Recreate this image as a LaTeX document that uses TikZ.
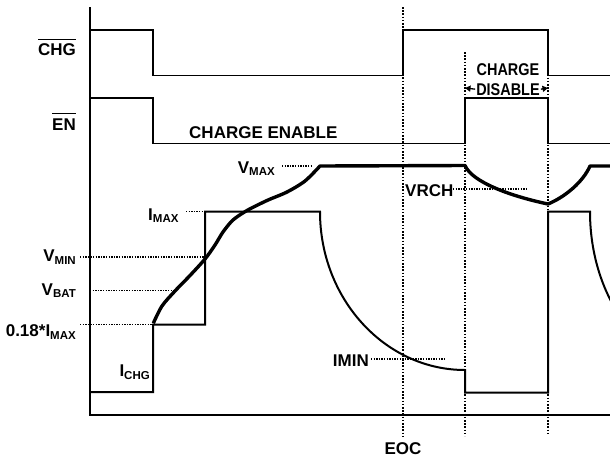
\documentclass[tikz,border=0pt]{standalone}
\usepackage{fontspec}
\setmainfont{Liberation Sans}
\usetikzlibrary{arrows.meta}
\newcommand{\lsub}[1]{\raisebox{-2.5pt}{\fontsize{11.5}{12}\selectfont #1}}
\newcommand{\ovl}[1]{\leavevmode\vbox{\hrule height 1.3pt \kern 4pt \hbox{#1}}}
\begin{document}
\begin{tikzpicture}[x=1pt,y=-1pt,
  lbl/.style={font=\fontsize{17}{19}\selectfont\bfseries, inner sep=0pt},
  sig/.style={line width=1.3pt},
  cur/.style={line width=2pt, line join=miter},
  volt/.style={line width=3.4pt, line join=round},
  leader/.style={line width=1.3pt, dash pattern=on 1.3pt off 1.3pt},
  vdot/.style={line width=1.6pt, dash pattern=on 1.6pt off 1.6pt},
  tip/.style={-{Triangle[length=5.5pt,width=6pt]}}]
\useasboundingbox (0,0) rectangle (610,458);
\fill[white] (0,0) rectangle (610,458);
\clip (0,0) rectangle (610,458);

% axes
\draw[sig] (90,7) -- (90,415) -- (610,415);

% CHG and EN signals
\draw[sig] (90,30) -- (153,30) -- (153,75.5) -- (403,75.5) -- (403,30) -- (548,30) -- (548,75.5) -- (610,75.5);
\draw[sig] (90,98) -- (153,98) -- (153,143.7) -- (465,143.7) -- (465,98) -- (548,98) -- (548,143.7) -- (610,143.7);

% dotted verticals
\coordinate (eocT) at (403,7);   \coordinate (eocB) at (403,436);
\coordinate (d1T) at (465,52);   \coordinate (d1B) at (465,436);
\coordinate (d2T) at (548,52);   \coordinate (d2B) at (548,433);
\draw[vdot] (eocT) -- (eocB);
\draw[vdot] (d1T) -- (d1B);
\draw[vdot] (d2T) -- (d2B);

% charge current
\draw[cur] (90,392) -- (153,392) -- (153,324.7) -- (205,324.7) -- (205,211.7) -- (320,211.7)
  .. controls (320,299) and (385,370) .. (465,370) -- (465,392.7) -- (548,392.7) -- (548,211.7) -- (590,211.7)
  .. controls (590,299) and (643.7,370) .. (710,370);

% battery voltage
\draw[volt] plot[smooth, tension=0.5] coordinates {(153.3,323.3) (162,306) (175,291) (190,275.5) (205,259) (215,245) (223,232) (233,220) (247,210.5) (267,200.5) (287,192) (305,181) (320,166)}
  -- (465,165.5) .. controls (472,182) and (510,196) .. (548,204)
  .. controls (565,197) and (583,182) .. (590,166) -- (612,166);

% labels
\node[lbl, anchor=base east] (chg) at (76,55.7) {\ovl{CHG}};
\node[lbl, anchor=base east] (en) at (76,130) {\ovl{EN}};
\node[lbl, anchor=base west] (enable) at (189,138) {CHARGE ENABLE};
\node[lbl, anchor=base] (charge) at (508,75) {\scalebox{0.85}[1]{CHARGE}};
\node[lbl, anchor=base] (dis) at (508,95) {\scalebox{0.85}[1]{DISABLE}};
\coordinate (disL) at (465,88);
\coordinate (disR) at (548,88);
\draw[sig,tip] ([xshift=-1pt]dis.west) -- (disL);
\draw[sig,tip] ([xshift=1pt]dis.east) -- (disR);

\node[lbl, anchor=base east] (vmax) at (275,173) {V\lsub{MAX}};
\node[lbl, anchor=base west] (imax) at (148,220) {I\lsub{MAX}};
\node[lbl, anchor=base east] (vmin) at (76,261.7) {V\lsub{MIN}};
\node[lbl, anchor=base east] (vbat) at (76,295) {V\lsub{BAT}};
\node[lbl, anchor=base east] (i018) at (76,336.7) {0.18*I\lsub{MAX}};
\node[lbl, anchor=base east] (ichg) at (150,376.7) {I\lsub{CHG}};
\node[lbl, anchor=base east] (imin) at (369,366) {IMIN};
\node[lbl, anchor=base west] (vrch) at (405,196.7) {VRCH};
\node[lbl, anchor=base] (eoc) at (403,454) {EOC};

% leaders
\coordinate (vmaxL) at (282,166);   \coordinate (vmaxR) at (312,166);
\coordinate (imaxL) at (186,211.7); \coordinate (imaxR) at (205,211.7);
\coordinate (vminL) at (80,257);    \coordinate (vminR) at (205.7,257);
\coordinate (vbatL) at (90,290.3);  \coordinate (vbatR) at (175,290.3);
\coordinate (i018L) at (80,324.7);  \coordinate (i018R) at (153,324.7);
\coordinate (iminL) at (371,359);   \coordinate (iminR) at (446,359);
\coordinate (vrchL) at (453,189);   \coordinate (vrchR) at (528,189);
\draw[leader] (vmaxL) -- (vmaxR);
\draw[leader] (imaxL) -- (imaxR);
\draw[leader] (vminL) -- (vminR);
\draw[leader] (vbatL) -- (vbatR);
\draw[leader] (i018L) -- (i018R);
\draw[leader] (iminL) -- (iminR);
\draw[leader] (vrchL) -- (vrchR);
\end{tikzpicture}
\end{document}
